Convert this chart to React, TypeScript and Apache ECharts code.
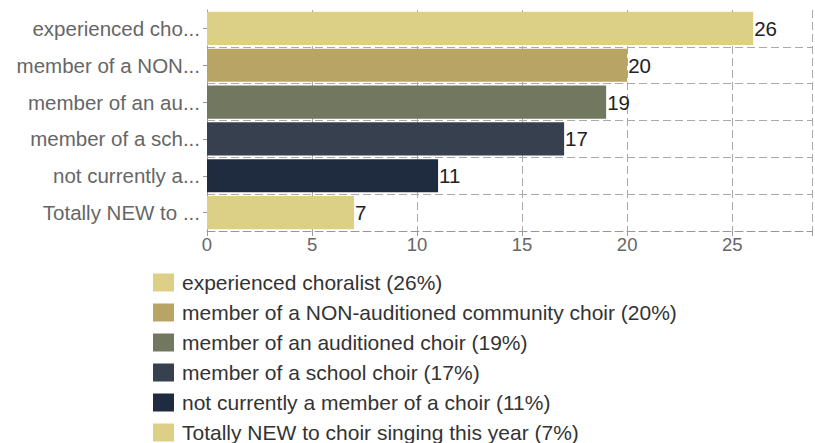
import React, { useEffect, useRef } from "react";
import * as echarts from "echarts";

const categories = [
  "experienced choralist",
  "member of a NON-auditioned community choir",
  "member of an auditioned choir",
  "member of a school choir",
  "not currently a member of a choir",
  "Totally NEW to choir singing this year",
];
const values = [26, 20, 19, 17, 11, 7];
const percents = ["26%", "20%", "19%", "17%", "11%", "7%"];
const colors = ["#DCD086", "#B8A465", "#727860", "#36404E", "#1F2B3F", "#DCD086"];
const xTicks = [0, 5, 10, 15, 20, 25];

export default function App() {
  const ref = useRef<HTMLDivElement>(null);
  useEffect(() => {
    const chart = echarts.init(ref.current!, undefined, { renderer: "svg" });
    const font = "'Liberation Sans', Arial, Helvetica, sans-serif";
    const dash = [8, 4];
    const series = categories.map((c, i) => ({
      type: "bar",
      name: `${c} (${percents[i]})`,
      stack: "all",
      barWidth: "90%",
      data: values.map((v, j) => (j === i ? v : "-")),
      itemStyle: { color: colors[i] },
      label: {
        show: true,
        position: "right",
        distance: 1,
        color: "#222",
        fontSize: 20.5,
        fontFamily: font,
      },
    }));
    chart.setOption({
      animation: false,
      textStyle: { fontFamily: font },
      grid: { left: 207, top: 10, right: 0, height: 221 },
      xAxis: {
        type: "value",
        min: 0,
        max: 28.8,
        interval: 5,
        axisLine: { show: true, lineStyle: { color: "#999", type: dash } },
        axisTick: { show: true, length: 5, lineStyle: { color: "#999" } },
        axisLabel: {
          color: "#666",
          fontSize: 18.5,
          margin: 4,
          formatter: (v: number) => (xTicks.includes(v) ? String(v) : ""),
        },
        splitLine: { show: true, lineStyle: { color: "#aaa", type: dash } },
      },
      yAxis: {
        type: "category",
        inverse: true,
        data: categories,
        axisLine: { show: true, lineStyle: { color: "#999", type: dash } },
        axisTick: { show: true, length: 4, alignWithLabel: true, lineStyle: { color: "#999" } },
        axisLabel: {
          color: "#666",
          fontSize: 20.5,
          margin: 7,
          formatter: (s: string) => (s.length > 15 ? s.slice(0, 15) + "..." : s),
        },
        splitLine: {
          show: true,
          interval: (i: number) => i !== 0,
          lineStyle: { color: "#aaa", type: dash },
        },
      },
      legend: {
        orient: "vertical",
        left: 148,
        top: 267,
        height: 200,
        itemWidth: 21,
        itemHeight: 18,
        itemGap: 9,
        icon: "rect",
        textStyle: {
          color: "#333",
          fontSize: 21,
          lineHeight: 21,
          fontFamily: font,
          padding: [0, 0, 0, 3],
        },
        selectedMode: false,
      },
      series,
    });
    return () => chart.dispose();
  }, []);
  return <div ref={ref} style={{ width: 815, height: 443, position: "absolute", left: 0, top: 0 }} />;
}
